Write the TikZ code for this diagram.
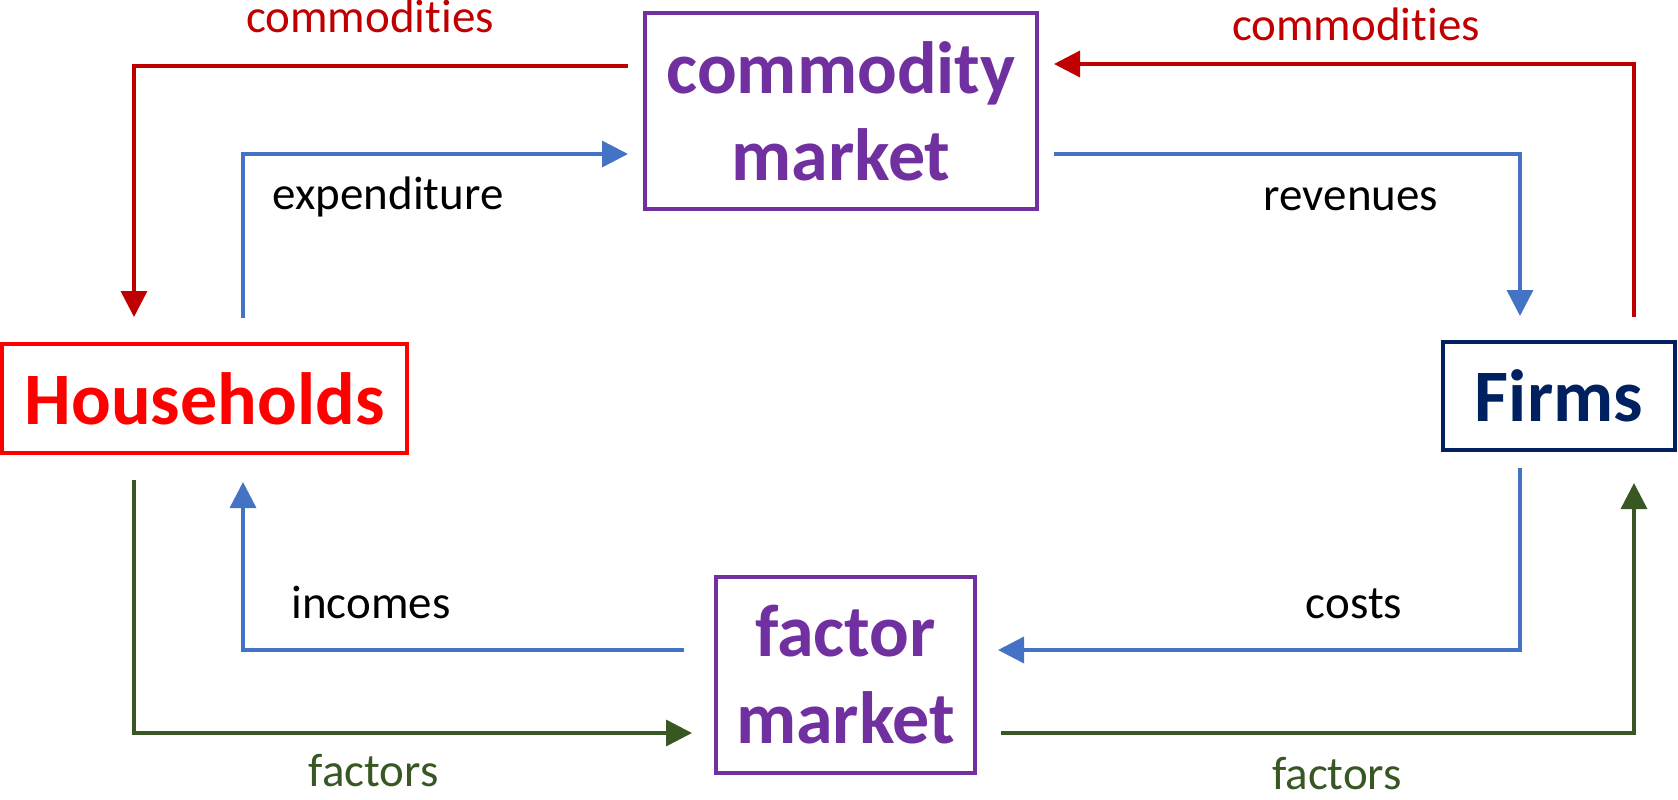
\documentclass[tikz,border=0pt]{standalone}
\usepackage{fontspec}
\setmainfont[Ligatures=NoCommon]{Carlito}
\usetikzlibrary{arrows.meta}
\definecolor{cred}{HTML}{C00000}
\definecolor{cblue}{HTML}{4472C4}
\definecolor{cgreen}{HTML}{385723}
\definecolor{cpurple}{HTML}{7030A0}
\definecolor{cnavy}{HTML}{002060}
\definecolor{hred}{HTML}{FF0000}
\begin{document}
\begin{tikzpicture}[x=0.5pt,y=-0.5pt,
 box/.style={draw, line width=2pt, inner sep=0pt, align=center, font=\fontsize{37}{43.5}\selectfont\bfseries},
 lbl/.style={font=\fontsize{23.5}{28}\selectfont, anchor=base, inner sep=0pt},
 flow/.style={line width=1.75pt, -{Triangle[length=13pt,width=13pt]}},
]
\useasboundingbox (0,0) rectangle (1678,799);
% boxes
\node[box, draw=cpurple, text=cpurple, minimum width=196pt, minimum height=98pt] (cm) at (841,111) {commodity\\market};
\node[box, draw=hred, text=hred, minimum width=202.5pt, minimum height=54.5pt] (hh) at (204.5,398.5) {Households};
\node[box, draw=cnavy, text=cnavy, minimum width=116pt, minimum height=54pt] (fi) at (1559,396) {Firms};
\node[box, draw=cpurple, text=cpurple, minimum width=129.5pt, minimum height=98pt] (fm) at (845.5,675) {factor\\market};
% connector end points
\coordinate (a1) at (628,66);   \coordinate (a2) at (134,317);
\coordinate (b1) at (243,318);  \coordinate (b2) at (628,154);
\coordinate (c1) at (1634,317); \coordinate (c2) at (1054,64);
\coordinate (d1) at (1054,154); \coordinate (d2) at (1520,316);
\coordinate (e1) at (1520,468); \coordinate (e2) at (998,650);
\coordinate (f1) at (684,650);  \coordinate (f2) at (243,482);
\coordinate (g1) at (134,480);  \coordinate (g2) at (692,733);
\coordinate (h1) at (1001,733); \coordinate (h2) at (1634,483);
% connectors
\draw[flow, cred] (a1) -| (a2);
\draw[flow, cblue] (b1) |- (b2);
\draw[flow, cred] (c1) |- (c2);
\draw[flow, cblue] (d1) -| (d2);
\draw[flow, cblue] (e1) |- (e2);
\draw[flow, cblue] (f1) -| (f2);
\draw[flow, cgreen] (g1) |- (g2);
\draw[flow, cgreen] (h1) -| (h2);
% labels
\node[lbl, text=cred] (l1) at (370,32) {commodities};
\node[lbl, text=cred] (l2) at (1356,40) {commodities};
\node[lbl] (l3) at (388,209) {expenditure};
\node[lbl] (l4) at (1351,210) {revenues};
\node[lbl] (l5) at (371,618) {incomes};
\node[lbl] (l6) at (1354,618) {costs};
\node[lbl, text=cgreen] (l7) at (373.5,786) {factors};
\node[lbl, text=cgreen] (l8) at (1337,789) {factors};
\end{tikzpicture}
\end{document}
